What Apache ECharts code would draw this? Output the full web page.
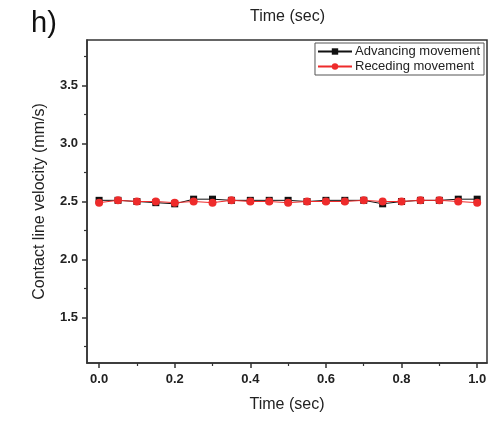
<!DOCTYPE html>
<html>
<head>
<meta charset="utf-8">
<script src="https://cdn.jsdelivr.net/npm/echarts@6/dist/echarts.min.js"></script>
<style>
  html, body { margin: 0; padding: 0; background: #fff; }
  #chart { width: 490px; height: 422px; }
</style>
</head>
<body>
<div id="chart"></div>
<script>
// time points (sec)
var times = [0, 0.05, 0.1, 0.15, 0.2, 0.25, 0.3, 0.35, 0.4, 0.45, 0.5,
  0.55, 0.6, 0.65, 0.7, 0.75, 0.8, 0.85, 0.9, 0.95, 1.0];
// contact line velocity (mm/s)
var advancing = [2.51, 2.51, 2.50, 2.49, 2.48, 2.52, 2.52, 2.51, 2.51, 2.51, 2.51,
  2.50, 2.51, 2.51, 2.51, 2.48, 2.50, 2.51, 2.51, 2.52, 2.52];
var receding = [2.49, 2.51, 2.50, 2.50, 2.49, 2.50, 2.49, 2.51, 2.50, 2.50, 2.49,
  2.50, 2.50, 2.50, 2.51, 2.50, 2.50, 2.51, 2.51, 2.50, 2.49];
// ticks
var xMajor = [0, 0.2, 0.4, 0.6, 0.8, 1.0];
var xMinor = [0.1, 0.3, 0.5, 0.7, 0.9];
var yMajor = [1.5, 2.0, 2.5, 3.0, 3.5];
var yMinor = [1.25, 1.75, 2.25, 2.75, 3.25, 3.75];

function pairs(ys) {
  var out = [];
  for (var i = 0; i < times.length; i++) {
    out.push([times[i], ys[i]]);
  }
  return out;
}

var font = 'Liberation Sans, Arial, sans-serif';
var xMin = -0.032, xMax = 1.026;
var yMin = 1.11, yMax = 3.89;

var chart = echarts.init(document.getElementById('chart'));
chart.setOption({
  animation: false,
  textStyle: { fontFamily: font },
  title: [
    {
      text: 'h)',
      left: 26, top: 4,
      textStyle: { fontSize: 29, fontWeight: 'normal', color: '#111', fontFamily: font }
    },
    {
      text: 'Time (sec)',
      left: 245, top: 4,
      textStyle: { fontSize: 16, fontWeight: 'normal', color: '#222', fontFamily: font }
    }
  ],
  legend: {
    orient: 'vertical',
    right: 6, top: 43,
    itemWidth: 34,
    itemHeight: 8,
    itemGap: 2,
    padding: [2, 4, 2, 2],
    borderColor: '#555',
    borderWidth: 1,
    textStyle: { fontSize: 13, color: '#222', fontFamily: font, padding: [0, 0, 0, -2] },
    data: ['Advancing movement', 'Receding movement']
  },
  grid: {
    left: 87, right: 3, top: 40, bottom: 59,
    show: true,
    borderColor: '#333',
    borderWidth: 1.5,
    backgroundColor: 'transparent'
  },
  xAxis: [
    {
      type: 'value',
      min: xMin, max: xMax,
      name: 'Time (sec)',
      nameLocation: 'middle',
      nameGap: 34,
      nameTextStyle: { fontSize: 16, color: '#222', fontFamily: font },
      axisLine: { show: true, onZero: false, lineStyle: { color: '#333', width: 1.5 } },
      axisTick: { show: true, customValues: xMajor, length: 5, lineStyle: { color: '#333', width: 1.5 } },
      axisLabel: {
        customValues: xMajor,
        margin: 10,
        fontSize: 13, fontWeight: 'bold', color: '#222', fontFamily: font,
        formatter: function (v) { return v.toFixed(1); }
      },
      splitLine: { show: false }
    },
    {
      type: 'value',
      position: 'bottom',
      min: xMin, max: xMax,
      axisLine: { show: false, onZero: false },
      axisTick: { show: true, customValues: xMinor, length: 3, lineStyle: { color: '#333', width: 1.2 } },
      axisLabel: { show: false },
      splitLine: { show: false }
    }
  ],
  yAxis: [
    {
      type: 'value',
      min: yMin, max: yMax,
      name: 'Contact line velocity (mm/s)',
      nameLocation: 'middle',
      nameGap: 39,
      nameTextStyle: { fontSize: 16, color: '#222', fontFamily: font },
      axisLine: { show: true, onZero: false, lineStyle: { color: '#333', width: 1.5 } },
      axisTick: { show: true, customValues: yMajor, length: 5, lineStyle: { color: '#333', width: 1.5 } },
      axisLabel: {
        customValues: yMajor,
        margin: 9,
        fontSize: 13, fontWeight: 'bold', color: '#222', fontFamily: font,
        formatter: function (v) { return v.toFixed(1); }
      },
      splitLine: { show: false }
    },
    {
      type: 'value',
      position: 'left',
      min: yMin, max: yMax,
      axisLine: { show: false, onZero: false },
      axisTick: { show: true, customValues: yMinor, length: 3, lineStyle: { color: '#333', width: 1.2 } },
      axisLabel: { show: false },
      splitLine: { show: false }
    }
  ],
  series: [
    {
      name: 'Advancing movement',
      type: 'line',
      data: pairs(advancing),
      symbol: 'rect',
      symbolSize: 7,
      itemStyle: { color: '#111' },
      lineStyle: { color: '#111', width: 1 },
      z: 2
    },
    {
      name: 'Receding movement',
      type: 'line',
      data: pairs(receding),
      symbol: 'circle',
      symbolSize: 8,
      itemStyle: { color: '#ee2b2b' },
      lineStyle: { color: '#ee2b2b', width: 1 },
      z: 3
    }
  ]
});
</script>
</body>
</html>
